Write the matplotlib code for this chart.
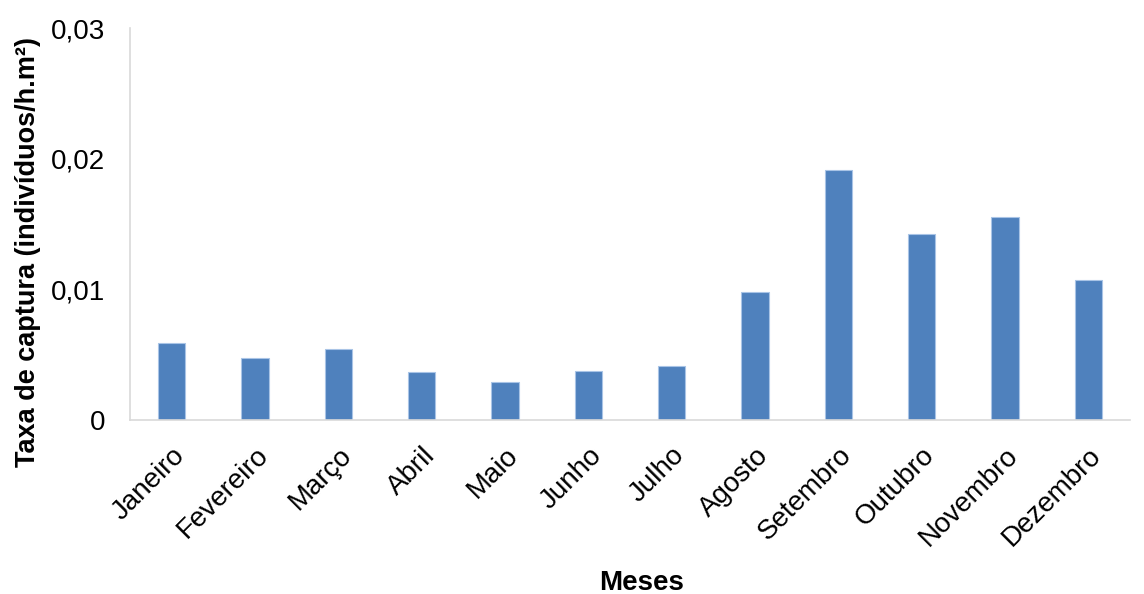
import matplotlib.pyplot as plt

plt.rcParams["font.family"] = ["Liberation Sans", "DejaVu Sans"]

meses = ["Janeiro", "Fevereiro", "Março", "Abril", "Maio", "Junho",
         "Julho", "Agosto", "Setembro", "Outubro", "Novembro", "Dezembro"]
taxa = [0.00592, 0.00473, 0.00542, 0.00365, 0.00289, 0.00375,
        0.00416, 0.00981, 0.01916, 0.01425, 0.0155, 0.0107]
yticks = [0, 0.01, 0.02, 0.03]
ylabels = ["0", "0,01", "0,02", "0,03"]

W, H = 1144, 594
fig = plt.figure(figsize=(W / 100, H / 100), dpi=100)
ax = fig.add_axes([130 / W, 1 - 420 / H, 1000 / W, 392 / H])

x = range(len(meses))
ax.bar(x, taxa, width=0.33, color="#4f81bd", edgecolor="#a9c4e6", linewidth=0.8)

ax.set_xlim(-0.5, len(meses) - 0.5)
ax.set_ylim(0, 0.03)
ax.set_yticks(yticks)
ax.set_yticklabels(ylabels, fontsize=20)
ax.set_xticks(list(x))
ax.set_xticklabels(meses, rotation=45, ha="right", rotation_mode="anchor", fontsize=20)
ax.tick_params(length=0)
ax.tick_params(axis="x", pad=16)
ax.tick_params(axis="y", pad=18)

for s in ["top", "right"]:
    ax.spines[s].set_visible(False)
for s in ["left", "bottom"]:
    ax.spines[s].set_color("#d9d9d9")
    ax.spines[s].set_linewidth(1.2)

fig.text(28 / W, 1 - 252 / H, "Taxa de captura (indivíduos/h.m²)", fontsize=19.5,
         fontweight="bold", rotation=90, ha="center", va="center")
fig.text(642 / W, 1 - 583 / H, "Meses", fontsize=20,
         fontweight="bold", ha="center", va="center")

fig.savefig("out.png", dpi=100, facecolor="white")
